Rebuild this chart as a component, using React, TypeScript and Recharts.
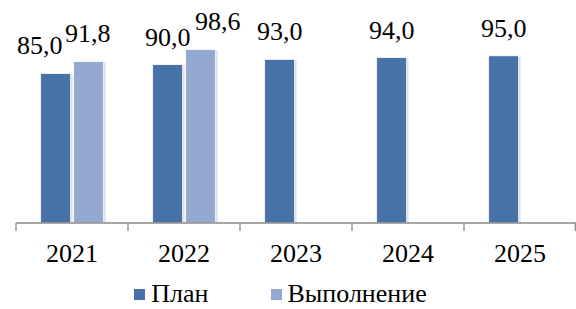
import { BarChart, Bar, XAxis, YAxis, Legend, LabelList } from "recharts";

const years = ["2021", "2022", "2023", "2024", "2025"];
const plan = [85.0, 90.0, 93.0, 94.0, 95.0];
const done = [91.8, 98.6, null, null, null];

const data = years.map((year, i) => ({ year, plan: plan[i], done: done[i] }));

const FONT = "'Times New Roman', 'Liberation Serif', serif";
const PLAN_COLOR = "#4672A8";
const DONE_COLOR = "#94A9D1";
const AXIS_COLOR = "#8a8a8a";

// Excel had two labels nudged sideways so they do not collide
const planNudge = [-16, 0, 0, 0, 0];
const doneNudge = [-1, 17, 0, 0, 0];

const fmt = (v: number) => v.toFixed(1).replace(".", ",");

const makeLabel = (nudge: number[]) => (props: any) => {
  const { x, y, width, value, index } = props;
  if (value == null) return null;
  return (
    <text x={x + width / 2 + (nudge[index] || 0)} y={y - 19} textAnchor="middle" fill="#000">
      {fmt(value)}
    </text>
  );
};

const BarShape = (props: any) => {
  const { x, y, width, height, fill } = props;
  if (!height) return null;
  return (
    <g>
      <rect x={x + 1} y={y + 1} width={width + 1} height={height - 1} fill="#000" opacity={0.12} />
      <rect x={x} y={y} width={width} height={height} fill={fill} stroke="#ffffff" strokeWidth={0.8} />
    </g>
  );
};

// tick marks sit between categories, like Excel's default
const YearTick = (props: any) => {
  const { x, y, payload, index, visibleTicksCount } = props;
  const half = payload.offset || 0;
  const last = index === visibleTicksCount - 1;
  return (
    <g>
      <line x1={x - half} x2={x - half} y1={y} y2={y + 8} stroke={AXIS_COLOR} strokeWidth={1.3} />
      {last && <line x1={x + half - 0.7} x2={x + half - 0.7} y1={y} y2={y + 8} stroke={AXIS_COLOR} strokeWidth={1.3} />}
      <text x={x} y={y + 21} dy="0.71em" textAnchor="middle" fill="#000">
        {payload.value}
      </text>
    </g>
  );
};

const legendItems = [
  { name: "План", color: PLAN_COLOR },
  { name: "Выполнение", color: DONE_COLOR },
];

const LegendContent = () => (
  <div
    style={{
      display: "flex",
      justifyContent: "center",
      alignItems: "center",
      height: 36,
      paddingTop: 6,
      paddingRight: 31,
      boxSizing: "border-box",
      lineHeight: "26px",
      color: "#000",
    }}
  >
    {legendItems.map((item, i) => (
      <div
        key={item.name}
        style={{ display: "flex", alignItems: "center", marginRight: i === 0 ? 62 : 0 }}
      >
        <span style={{ width: 11, height: 11, background: item.color, marginRight: 6 }} />
        <span>{item.name}</span>
      </div>
    ))}
  </div>
);

export default function App() {
  return (
    <div
      style={{
        position: "absolute",
        left: 0,
        top: 0,
        width: 576,
        height: 309,
        background: "#fff",
        fontFamily: FONT,
        fontSize: 26,
      }}
    >
      <BarChart
        width={576}
        height={309}
        data={data}
        margin={{ top: 47, right: 0, left: 16, bottom: 0 }}
        barCategoryGap="22%"
        barGap={3}
      >
        <XAxis
          dataKey="year"
          height={50}
          axisLine={{ stroke: AXIS_COLOR, strokeWidth: 1.3 }}
          tickLine={false}
          tickSize={0}
          tickMargin={0}
          interval={0}
          tick={<YearTick />}
        />
        <YAxis hide domain={[0, 100]} allowDataOverflow />
        <Legend verticalAlign="bottom" content={<LegendContent />} />
        <Bar dataKey="plan" name="План" fill={PLAN_COLOR} shape={<BarShape />} isAnimationActive={false}>
          <LabelList dataKey="plan" content={makeLabel(planNudge)} />
        </Bar>
        <Bar dataKey="done" name="Выполнение" fill={DONE_COLOR} shape={<BarShape />} isAnimationActive={false}>
          <LabelList dataKey="done" content={makeLabel(doneNudge)} />
        </Bar>
      </BarChart>
    </div>
  );
}
